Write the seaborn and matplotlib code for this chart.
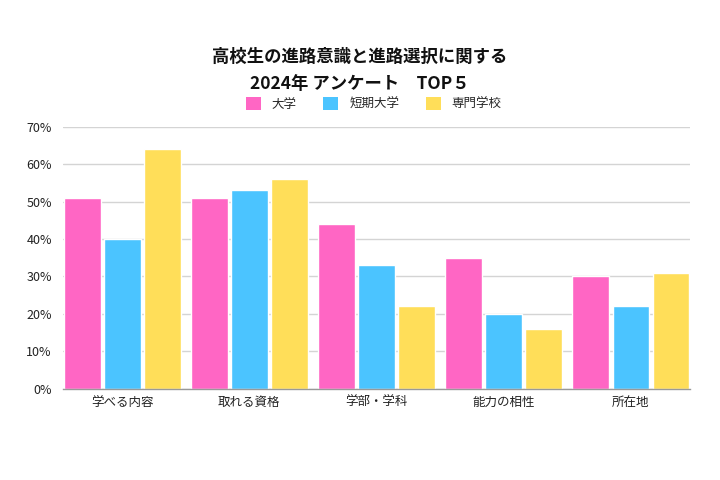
import matplotlib
matplotlib.use("Agg")
import matplotlib.pyplot as plt
import seaborn as sns
import pandas as pd
from matplotlib.patches import Patch

categories = ["学べる内容", "取れる資格", "学部・学科", "能力の相性", "所在地"]
series_names = ["大学", "短期大学", "専門学校"]
univ = [51, 51, 44, 35, 30]
junior = [40, 53, 33, 20, 22]
vocational = [64, 56, 22, 16, 31]
yticks = [0, 10, 20, 30, 40, 50, 60, 70]
colors = ["#FF66C4", "#4BC4FF", "#FFDE59"]

rows = []
for name, vals in zip(series_names, [univ, junior, vocational]):
    for c, v in zip(categories, vals):
        rows.append({"category": c, "series": name, "value": v})
df = pd.DataFrame(rows)

sns.set_theme(style="white")
plt.rcParams['font.family'] = ['Noto Sans CJK JP', 'DejaVu Sans']

fig = plt.figure(figsize=(7.2, 4.8), dpi=100)
ax = fig.add_axes([0.0875, 0.19, 0.871, 0.546])
sns.barplot(data=df, x="category", y="value", hue="series", palette=colors,
            width=0.945, gap=0.08, ax=ax, legend=False, saturation=1)

ax.set_ylim(0, 70)
ax.set_xlim(-0.465, 4.465)
ax.set_yticks(yticks)
ax.set_yticklabels([f"{t}%" for t in yticks], fontsize=9, color="#222222")
ax.tick_params(axis="x", labelsize=9, colors="#222222", length=0, pad=5)
ax.tick_params(axis="y", length=0, pad=8)
ax.set_xlabel("")
ax.set_ylabel("")
ax.yaxis.grid(True, color="#d4d4d4", linewidth=1)
ax.set_axisbelow(True)
for s in ["left", "right", "top"]:
    ax.spines[s].set_visible(False)
ax.spines["bottom"].set_color("#999999")
ax.spines["bottom"].set_linewidth(1)

fig.text(0.5, 0.882, "高校生の進路意識と進路選択に関する", ha="center", va="center",
         fontsize=12.5, fontweight="bold", color="#111111")
fig.text(0.5, 0.825, "2024年 アンケート　TOP５", ha="center", va="center",
         fontsize=12.5, fontweight="bold", color="#111111")

handles = [Patch(facecolor=c, edgecolor="none") for c in colors]
fig.legend(handles, series_names, loc="center", bbox_to_anchor=(0.519, 0.783), ncol=3,
           frameon=False, fontsize=9, handlelength=1.2, handleheight=1.2,
           columnspacing=2.1, handletextpad=0.9)

fig.savefig("out.png", dpi=100, facecolor="white")
